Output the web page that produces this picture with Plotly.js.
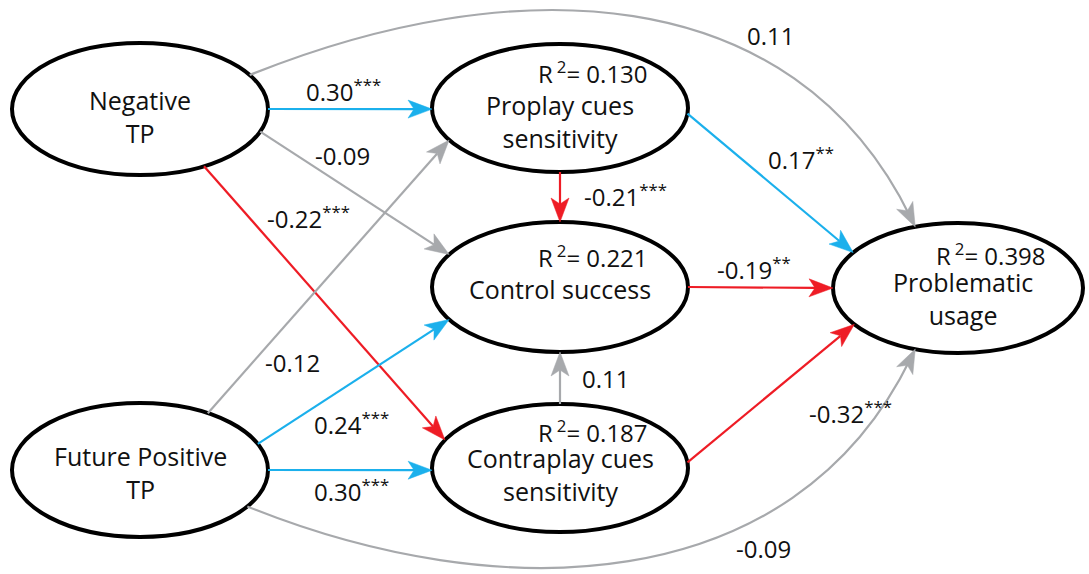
<!DOCTYPE html>
<html><head><meta charset="utf-8">
<script src="https://cdn.plot.ly/plotly-3.0.1.min.js"></script>
<style>html,body{margin:0;padding:0;background:#fff}</style>
</head><body><div id="chart" style="width:1089px;height:574px"></div>
<script>
// ---------------- DATA ----------------
const nodeIds    = ['neg', 'fut', 'pro', 'ctl', 'con', 'use'];
const nodeLabels = ['Negative<br>TP', 'Future Positive<br>TP', 'Proplay cues<br>sensitivity',
                    'Control success', 'Contraplay cues<br>sensitivity', 'Problematic<br>usage'];
const nodeR2     = [null, null, 0.130, 0.221, 0.187, 0.398];

const edgeFrom = ['neg','neg','neg','neg','fut','fut','fut','fut','pro','con','pro','ctl','con'];
const edgeTo   = ['pro','ctl','con','use','pro','ctl','con','use','ctl','ctl','use','use','use'];
const edgeCoef = [0.30, -0.09, -0.22, 0.11, -0.12, 0.24, 0.30, -0.09, -0.21, 0.11, 0.17, -0.19, -0.32];
const edgeSig  = ['***', '', '***', '', '', '***', '***', '', '***', '', '**', '**', '***'];

// ---------------- LAYOUT / STYLE ----------------
const W = 1089, H = 574;
const nodeGeom = {
  neg: {cx:140, cy:109, rx:128, ry:66, ly:116, lx:0},
  fut: {cx:140, cy:470, rx:128, ry:67, ly:472, lx:0},
  pro: {cx:560, cy:108, rx:128, ry:64, ly:121, lx:0, r2y:72},
  ctl: {cx:560, cy:287, rx:128, ry:65, ly:289, lx:0, r2y:256},
  con: {cx:560, cy:468, rx:128, ry:64, ly:474, lx:0, r2y:431},
  use: {cx:958, cy:288, rx:125, ry:65, ly:298, lx:5, r2y:254}
};
// per edge: attachment angles on ellipses (deg), optional curve handles, label position
const edgeGeom = [
  {a0:0,   a1:179, lab:[343,90]},
  {a0:20,  a1:210, lab:[342,155]},
  {a0:60,  a1:206, lab:[308,217]},
  {a0:-31, a1:250, curve:{d0:-22, l0:280, d1:64, l1:280}, lab:[770,35]},
  {a0:-58, a1:150, lab:[292,362]},
  {a0:-23, a1:150, lab:[351,423]},
  {a0:0,   a1:178, lab:[351,490]},
  {a0:33,  a1:110, curve:{d0:22, l0:270, d1:-64, l1:280}, lab:[763,548]},
  {a0:90,  a1:270, lab:[625,195]},
  {a0:270, a1:90,  lab:[605,378]},
  {a0:5,   a1:213, lab:[801,158]},
  {a0:0,   a1:180, lab:[754,268]},
  {a0:-5,  a1:146, lab:[850,412]}
];
const COL_POS = '#1BB0EC', COL_NEG = '#EE1C25', COL_NS = '#A7A9AC';
const FONT = 'Open Sans, Noto Sans, sans-serif';
const TXT = '#111111';
const HEAD_L = 24, HEAD_W = 9, NOTCH = 6;

function ellPt(g, deg){ const t = deg*Math.PI/180; return [g.cx + g.rx*Math.cos(t), g.cy + g.ry*Math.sin(t)]; }
function edgeColor(i){ if(!edgeSig[i]) return COL_NS; return edgeCoef[i] >= 0 ? COL_POS : COL_NEG; }
function fmt(v){ return (v < 0 ? '-' : '') + Math.abs(v).toFixed(2); }

const shapes = [], annotations = [];

// nodes
nodeIds.forEach((id, i) => {
  const g = nodeGeom[id];
  shapes.push({type:'circle', xref:'x', yref:'y', x0:g.cx-g.rx, x1:g.cx+g.rx, y0:g.cy-g.ry, y1:g.cy+g.ry,
               line:{color:'#000', width:4}, fillcolor:'#fff', layer:'above'});
  annotations.push({x:g.cx+g.lx, y:g.ly, xref:'x', yref:'y', text:nodeLabels[i], showarrow:false,
                    xanchor:'center', yanchor:'middle', font:{family:FONT, size:25, color:TXT}});
  if (nodeR2[i] !== null) {
    annotations.push({x:g.cx+90, y:g.r2y, xref:'x', yref:'y', text:'R\u2009<sup>2</sup>= ' + nodeR2[i].toFixed(3),
                      showarrow:false, xanchor:'right', yanchor:'middle', font:{family:FONT, size:24, color:TXT}});
  }
});

// edges
edgeFrom.forEach((f, i) => {
  const e = edgeGeom[i], col = edgeColor(i);
  const p0 = ellPt(nodeGeom[f], e.a0), p3 = ellPt(nodeGeom[edgeTo[i]], e.a1);
  let dir, path;
  if (e.curve) {
    const c = e.curve, r = Math.PI/180;
    const p1 = [p0[0] + c.l0*Math.cos(c.d0*r), p0[1] + c.l0*Math.sin(c.d0*r)];
    const p2 = [p3[0] - c.l1*Math.cos(c.d1*r), p3[1] - c.l1*Math.sin(c.d1*r)];
    dir = [Math.cos(c.d1*r), Math.sin(c.d1*r)];
    const pe = [p3[0] - dir[0]*10, p3[1] - dir[1]*10];
    path = `M${p0[0]},${p0[1]} C${p1[0]},${p1[1]} ${p2[0]},${p2[1]} ${pe[0]},${pe[1]}`;
  } else {
    const dx = p3[0]-p0[0], dy = p3[1]-p0[1], len = Math.hypot(dx, dy);
    dir = [dx/len, dy/len];
    const pe = [p3[0] - dir[0]*(HEAD_L-NOTCH), p3[1] - dir[1]*(HEAD_L-NOTCH)];
    path = `M${p0[0]},${p0[1]} L${pe[0]},${pe[1]}`;
  }
  shapes.push({type:'path', xref:'x', yref:'y', path, line:{color:col, width:2.2}, layer:'above'});
  // arrowhead
  const n = [-dir[1], dir[0]];
  const b = [p3[0]-dir[0]*HEAD_L, p3[1]-dir[1]*HEAD_L];
  const m = [p3[0]-dir[0]*(HEAD_L-NOTCH), p3[1]-dir[1]*(HEAD_L-NOTCH)];
  const hp = `M${p3[0]},${p3[1]} L${b[0]+n[0]*HEAD_W},${b[1]+n[1]*HEAD_W} L${m[0]},${m[1]} L${b[0]-n[0]*HEAD_W},${b[1]-n[1]*HEAD_W} Z`;
  shapes.push({type:'path', xref:'x', yref:'y', path:hp, fillcolor:col, line:{color:col, width:0.5}, layer:'above'});
  annotations.push({x:e.lab[0], y:e.lab[1], xref:'x', yref:'y', showarrow:false,
                    text: fmt(edgeCoef[i]) + (edgeSig[i] ? '<sup>' + edgeSig[i] + '</sup>' : ''),
                    xanchor:'center', yanchor:'middle', font:{family:FONT, size:24, color:TXT}});
});

const layout = {
  width: W, height: H, margin:{l:0, r:0, t:0, b:0},
  paper_bgcolor:'#fff', plot_bgcolor:'#fff', showlegend:false,
  xaxis:{range:[0, W], visible:false, fixedrange:true},
  yaxis:{range:[H, 0], visible:false, fixedrange:true},
  shapes, annotations
};
Plotly.newPlot('chart', [], layout, {staticPlot:true, displayModeBar:false});
</script></body></html>
